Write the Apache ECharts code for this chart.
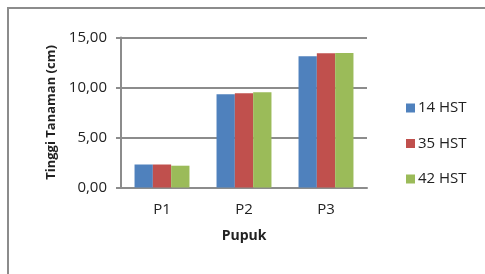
<!DOCTYPE html>
<html>
<head>
<meta charset="utf-8">
<script src="https://cdn.jsdelivr.net/npm/echarts@6/dist/echarts.min.js"></script>
<style>
  html, body { margin: 0; padding: 0; background: #fff; }
  #chart { width: 485px; height: 274px; }
</style>
</head>
<body>
<div id="chart"></div>
<script>
// data
const categories = ['P1', 'P2', 'P3'];
const seriesNames = ['14 HST', '35 HST', '42 HST'];
const hst14 = [2.30, 9.32, 13.12];
const hst35 = [2.30, 9.42, 13.42];
const hst42 = [2.18, 9.52, 13.45];
const yTicks = ['0,00', '5,00', '10,00', '15,00'];
const colors = ['#4F81BD', '#C0504D', '#9BBB59'];

const font = 'Open Sans';
const chart = echarts.init(document.getElementById('chart'));

chart.setOption({
    animation: false,
    color: colors,
    textStyle: { fontFamily: font },
    graphic: [{
        type: 'rect',
        shape: { x: 8, y: 8, width: 490, height: 290 },
        style: { fill: 'none', stroke: '#8c8c8c', lineWidth: 2 },
        silent: true
    }],
    grid: { left: 121, right: 118, top: 37.5, bottom: 86.5 },
    legend: {
        orient: 'vertical',
        left: 401,
        top: 95.5,
        icon: 'rect',
        itemWidth: 9,
        itemHeight: 9,
        itemGap: 20.5,
        textStyle: { fontSize: 15, color: '#222', lineHeight: 15, padding: [0, 0, 0, -2] },
        data: seriesNames
    },
    xAxis: {
        type: 'category',
        data: categories,
        axisLine: { lineStyle: { color: '#8c8c8c', width: 2 } },
        axisTick: { show: false },
        axisLabel: { fontSize: 15, color: '#222', margin: 15 },
        name: 'Pupuk',
        nameLocation: 'middle',
        nameGap: 42,
        nameTextStyle: { fontSize: 14, fontWeight: 'bold', color: '#222' }
    },
    yAxis: {
        type: 'value',
        min: 0,
        max: 15,
        interval: 5,
        axisLine: { show: true, lineStyle: { color: '#8c8c8c', width: 2 } },
        axisTick: { show: true, length: 5, lineStyle: { color: '#8c8c8c', width: 2 } },
        splitLine: { lineStyle: { color: '#8c8c8c', width: 2 } },
        axisLabel: {
            fontSize: 15,
            color: '#222',
            margin: 14,
            formatter: (v) => yTicks[Math.round(v / 5)]
        },
        name: 'Tinggi Tanaman (cm)',
        nameLocation: 'middle',
        nameGap: 62,
        nameTextStyle: { fontSize: 13, fontWeight: 'bold', color: '#222' }
    },
    series: [
        { name: seriesNames[0], type: 'bar', data: hst14, barGap: '0%', barCategoryGap: '33%' },
        { name: seriesNames[1], type: 'bar', data: hst35, barGap: '0%', barCategoryGap: '33%' },
        { name: seriesNames[2], type: 'bar', data: hst42, barGap: '0%', barCategoryGap: '33%' }
    ]
});
</script>
</body>
</html>
